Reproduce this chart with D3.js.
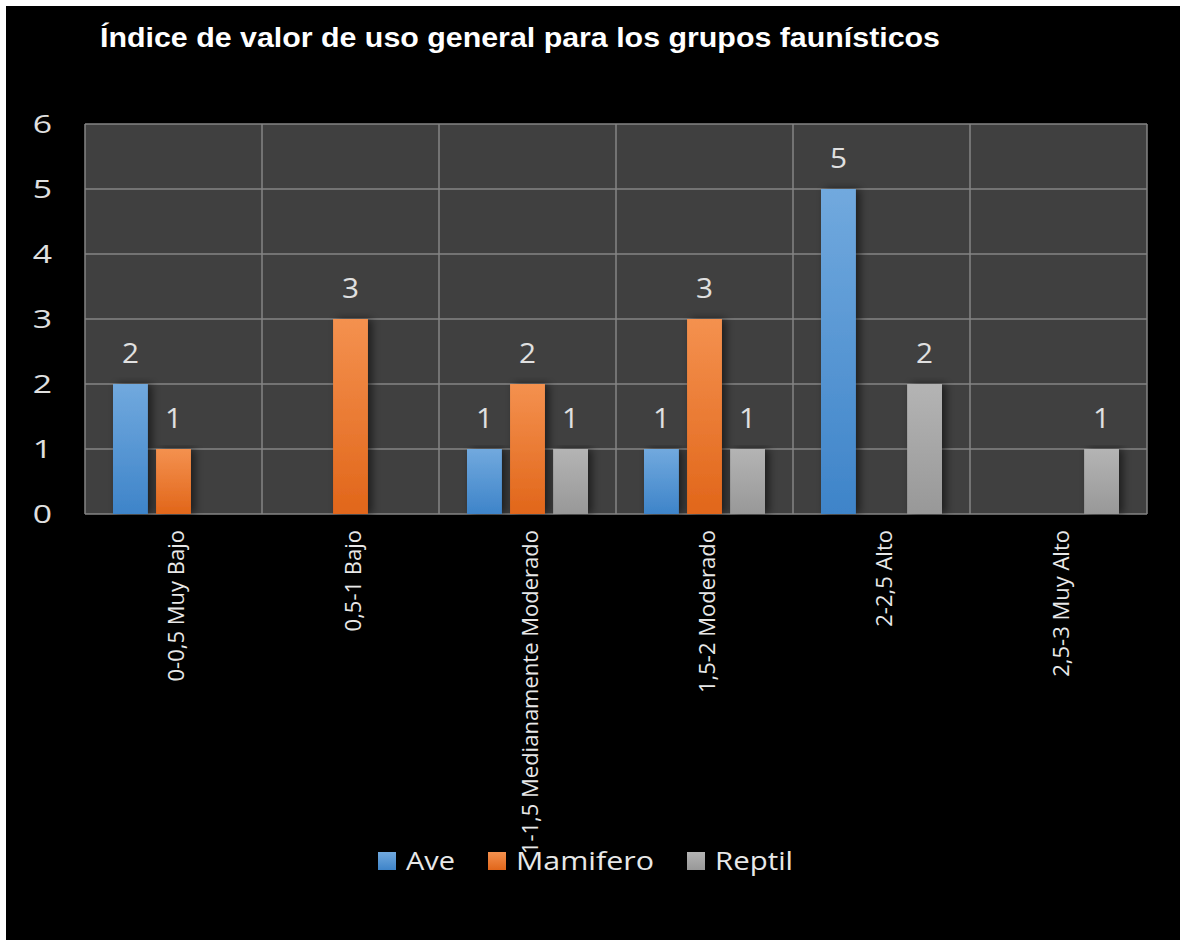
<!DOCTYPE html>
<html><head><meta charset="utf-8">
<script src="https://cdn.jsdelivr.net/npm/d3@7"></script>
<style>html,body{margin:0;padding:0;background:#fff;}svg{display:block;}</style>
</head><body>
<svg id="c" width="1180" height="940"></svg>
<script>
const title = "Índice de valor de uso general para los grupos faunísticos";
const categories = ["0-0,5 Muy Bajo","0,5-1 Bajo","1-1,5 Medianamente Moderado","1,5-2 Moderado","2-2,5 Alto","2,5-3 Muy Alto"];
const seriesNames = ["Ave","Mamifero","Reptil"];
const ave      = [2, 0, 1, 1, 5, 0];
const mamifero = [1, 3, 2, 3, 0, 0];
const reptil   = [0, 0, 1, 1, 2, 1];
const yTicks = [0,1,2,3,4,5,6];

(function(){
const seriesValues = [ave, mamifero, reptil];
const colors = [
  {top:"#71a9de", bot:"#3e84c9"},
  {top:"#f4914f", bot:"#e1661a"},
  {top:"#b4b4b4", bot:"#989898"}
];

const svg = d3.select("#c");
const defs = svg.append("defs");
colors.forEach((c,i)=>{
  const g = defs.append("linearGradient").attr("id","g"+i).attr("x1",0).attr("y1",0).attr("x2",0).attr("y2",1);
  g.append("stop").attr("offset","0%").attr("stop-color",c.top);
  g.append("stop").attr("offset","100%").attr("stop-color",c.bot);
});
const f = defs.append("filter").attr("id","sh").attr("x","-20%").attr("y","-5%").attr("width","160%").attr("height","110%");
f.append("feDropShadow").attr("dx",4).attr("dy",0).attr("stdDeviation",4).attr("flood-color","#000").attr("flood-opacity",0.55);

svg.append("rect").attr("x",6).attr("y",6).attr("width",1174).attr("height",934).attr("fill","#000");

const pL=85, pR=1147, pT=124, pB=514;
const x0 = d3.scaleBand().domain(categories).range([pL,pR]).paddingInner(0).paddingOuter(0);
const x1 = d3.scaleBand().domain(seriesNames).range([28, x0.bandwidth()-28]).paddingInner(0.19).paddingOuter(0);
const y = d3.scaleLinear().domain([0,6]).range([pB,pT]);

svg.append("rect").attr("x",pL).attr("y",pT).attr("width",pR-pL).attr("height",pB-pT).attr("fill","#404040");

svg.append("g").selectAll("line").data(yTicks).join("line")
  .attr("x1",pL).attr("x2",pR).attr("y1",d=>y(d)).attr("y2",d=>y(d))
  .attr("stroke","#858585").attr("stroke-width",1.5);
const vb = categories.map(c=>x0(c)).concat([pR]);
svg.append("g").selectAll("line").data(vb).join("line")
  .attr("x1",d=>d).attr("x2",d=>d).attr("y1",pT).attr("y2",pB)
  .attr("stroke","#858585").attr("stroke-width",1.5);

const data = [];
categories.forEach((c,ci)=>seriesNames.forEach((s,si)=>data.push({c,s,si,v:seriesValues[si][ci]})));
const bars = data.filter(d=>d.v>0);
svg.append("g").selectAll("rect").data(bars).join("rect")
  .attr("x",d=>x0(d.c)+x1(d.s)).attr("width",x1.bandwidth())
  .attr("y",d=>y(d.v)).attr("height",d=>y(0)-y(d.v))
  .attr("fill",d=>"url(#g"+d.si+")").attr("filter","url(#sh)");

svg.append("g").selectAll("text").data(bars).join("text")
  .attr("transform",d=>`translate(${x0(d.c)+x1(d.s)+x1.bandwidth()/2},${y(d.v)-21}) scale(1.1,1)`)
  .attr("text-anchor","middle").attr("fill","#e0e0e0")
  .attr("font-family","'Open Sans', sans-serif").attr("font-size",27)
  .text(d=>d.v);

svg.append("g").selectAll("text").data(yTicks).join("text")
  .attr("transform",d=>`translate(42.5,${y(d)}) scale(1.35,1)`).attr("dy","0.36em")
  .attr("text-anchor","middle").attr("fill","#e0e0e0")
  .attr("font-family","'Open Sans', sans-serif").attr("font-size",25)
  .text(d=>d);

svg.append("g").selectAll("text").data(categories).join("text")
  .attr("transform",c=>`translate(${x0(c)+x0.bandwidth()/2+3},530) rotate(-90)`)
  .attr("text-anchor","end").attr("dy","0.35em").attr("fill","#e8e8e8")
  .attr("font-family","'Open Sans', sans-serif").attr("font-size",22)
  .text(c=>c);

svg.append("text").attr("x",100).attr("y",47).attr("fill","#fff")
  .attr("font-family","'Liberation Sans', Arial, sans-serif").attr("font-weight","bold").attr("font-size",27)
  .attr("textLength",840).attr("lengthAdjust","spacingAndGlyphs")
  .text(title);

const legX = [378, 488, 687];
const legW = [49, 138, 78];
const lg = svg.append("g").selectAll("g").data(seriesNames).join("g");
lg.append("rect").attr("x",(d,i)=>legX[i]).attr("y",852).attr("width",18).attr("height",18)
  .attr("fill",(d,i)=>"url(#g"+i+")");
lg.append("text").attr("x",(d,i)=>legX[i]+28).attr("y",861).attr("dy","0.36em")
  .attr("fill","#e8e8e8").attr("font-family","'Open Sans', sans-serif").attr("font-size",26)
  .attr("textLength",(d,i)=>legW[i]).attr("lengthAdjust","spacingAndGlyphs")
  .text(d=>d);
})();
</script>
</body></html>
